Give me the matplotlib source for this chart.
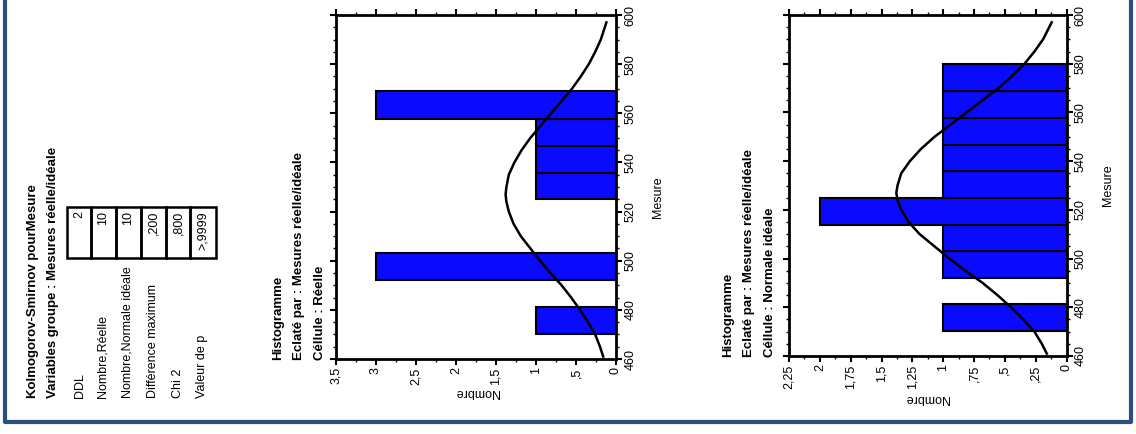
import matplotlib
matplotlib.use("Agg")
import matplotlib.pyplot as plt
from matplotlib.patches import Rectangle
from matplotlib.lines import Line2D
from matplotlib.ticker import MultipleLocator, FuncFormatter

plt.rcParams['font.family'] = ['Liberation Sans', 'DejaVu Sans']

# --- data ---
bin_edges = [470.3, 481.2, 492.0, 503.0, 513.6, 525.0, 535.8, 546.8, 557.6, 569.0, 579.7]
counts_reelle = [1, 0, 3, 0, 0, 1, 1, 1, 3, 0]
counts_normale = [1, 0, 1, 1, 2, 1, 1, 1, 1, 1]

# fitted normal curve (Mesure, Nombre)
curve_x = [461, 465, 470, 475, 480, 485, 490, 495, 500, 505, 510, 515, 520, 524, 527,
           530, 535, 540, 545, 550, 555, 560, 565, 570, 575, 580, 585, 590, 597]
curve_y = [0.16, 0.20, 0.26, 0.35, 0.45, 0.56, 0.68, 0.82, 0.95, 1.07, 1.19, 1.28, 1.34, 1.37, 1.38,
           1.37, 1.34, 1.27, 1.18, 1.07, 0.94, 0.81, 0.68, 0.55, 0.44, 0.34, 0.26, 0.19, 0.12]

stat_labels = ["DDL", "Nombre,Réelle", "Nombre,Normale idéale",
               "Différence maximum", "Chi 2", "Valeur de p"]
stat_values = ["2", "10", "10", ",200", ",800", ">,9999"]

W, H = 1136, 434


def fx(x):
    return x / W


def fy(y):
    return 1 - y / H


def fr(v, pos=None):
    s = f"{v:g}".replace('.', ',')
    if s.startswith('0,'):
        s = s[1:]
    return s


fig = plt.figure(figsize=(W / 100, H / 100), dpi=100)
fig.patch.set_facecolor('white')

# outer blue frame
fig.add_artist(Line2D([fx(5), fx(5), fx(1131), fx(1131)], [fy(0), fy(422), fy(422), fy(0)],
                      transform=fig.transFigure, color='#2f4d7e', lw=3))

# --- Kolmogorov-Smirnov panel ---
fig.text(fx(33), fy(398), "Kolmogorov-Smirnov pourMesure", rotation=90, ha='center', va='bottom',
         fontsize=9.5, fontweight='bold')
fig.text(fx(53), fy(398), "Variables groupe : Mesures réelle/idéale", rotation=90, ha='center',
         va='bottom', fontsize=9.5, fontweight='bold')

row_x = [80, 103, 128, 153, 178, 202]
cell_edges = [67, 91, 116, 141, 166, 190, 216]
for i, (lab, val) in enumerate(zip(stat_labels, stat_values)):
    fig.text(fx(row_x[i]), fy(398), lab, rotation=90, ha='center', va='bottom', fontsize=9)
    x0, x1 = cell_edges[i], cell_edges[i + 1]
    fig.add_artist(Rectangle((fx(x0), fy(258)), fx(x1 - x0), (258 - 207) / H,
                             transform=fig.transFigure, fill=False, ec='black', lw=1.8))
    fig.text(fx((x0 + x1) / 2), fy(211), val, rotation=90, ha='center', va='top', fontsize=9)


def histo(rect, counts, xmax, major, minor, cell, title_x, title_y, nombre_pos, mesure_pos):
    ax = fig.add_axes(rect)
    for lo, hi, c in zip(bin_edges[:-1], bin_edges[1:], counts):
        if c > 0:
            ax.barh(lo, c, height=hi - lo, align='edge', color='#0a0aff',
                    edgecolor='black', linewidth=1.5, zorder=2)
    ax.plot(curve_y, curve_x, color='black', lw=1.8, zorder=3)
    ax.set_xlim(xmax, 0)
    ax.set_ylim(460, 600)
    ax.xaxis.set_major_locator(MultipleLocator(major))
    ax.xaxis.set_minor_locator(MultipleLocator(minor))
    ax.xaxis.set_major_formatter(FuncFormatter(fr))
    ax.yaxis.set_major_locator(MultipleLocator(20))
    ax.yaxis.set_minor_locator(MultipleLocator(5))
    ax.tick_params(which='both', direction='out', top=True, bottom=True, left=True, right=True,
                   labelleft=False, labelright=True, labeltop=False, labelbottom=True)
    ax.tick_params(which='major', length=4, width=1.5, pad=2, labelsize=9)
    ax.tick_params(which='minor', length=2.5, width=1)
    for lab in ax.get_xticklabels():
        lab.set_rotation(90)
        lab.set_ha('center')
        lab.set_va('top')
    for lab in ax.get_yticklabels():
        lab.set_rotation(90)
        lab.set_ha('left')
        lab.set_va('center')
    for sp in ax.spines.values():
        sp.set_linewidth(2)
    lines = ["Histogramme", "Eclaté par : Mesures réelle/idéale", "Céllule : " + cell]
    for tx, t in zip(title_x, lines):
        fig.text(fx(tx), fy(title_y), t, rotation=90, ha='center', va='bottom', fontsize=9.5,
                 fontweight='bold')
    fig.text(fx(nombre_pos[0]), fy(nombre_pos[1]), "Nombre", rotation=180, ha='center',
             va='center', fontsize=9)
    fig.text(fx(mesure_pos[0]), fy(mesure_pos[1]), "Mesure", rotation=90, ha='center',
             va='center', fontsize=9)
    return ax


histo([fx(336), fy(359), 280 / W, 344 / H], counts_reelle, 3.5, 0.5, 0.25, "Réelle",
      [278, 299, 320], 360, (477, 392), (658, 197))
histo([fx(789), fy(356), 277.5 / W, 341 / H], counts_normale, 2.25, 0.25, 0.125, "Normale idéale",
      [728, 749, 770], 357, (927, 398), (1108, 185))

fig.savefig("out.png", dpi=100)
